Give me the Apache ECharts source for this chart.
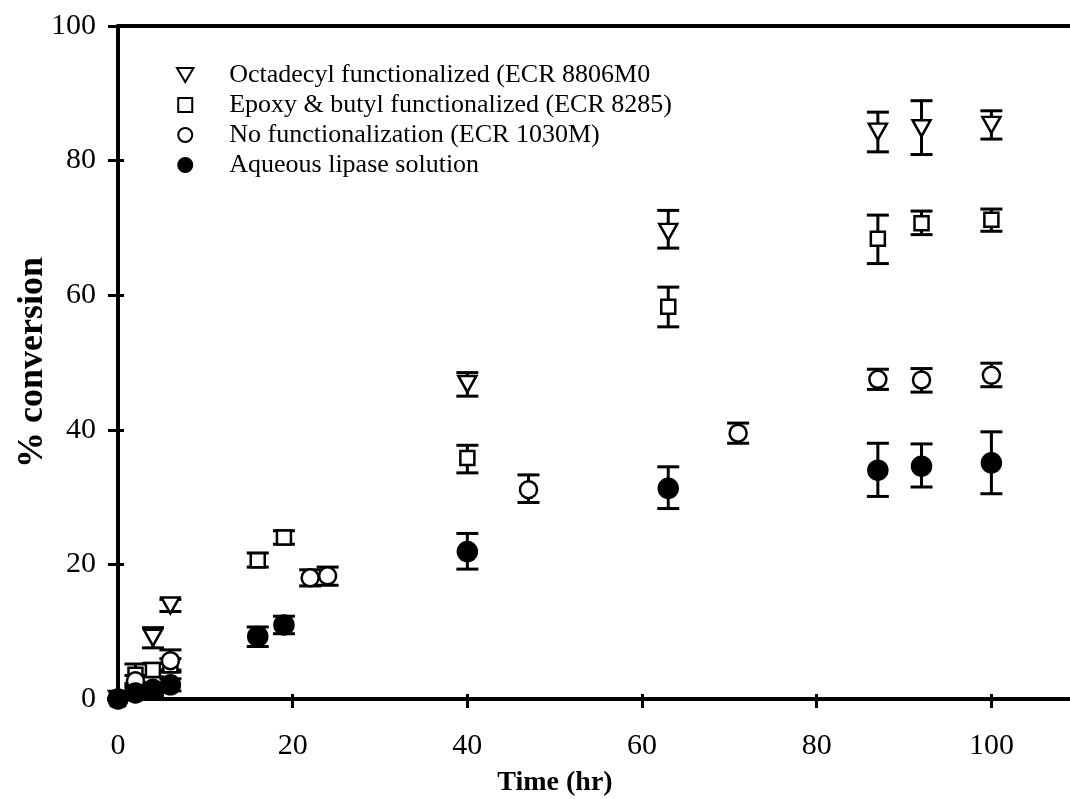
<!DOCTYPE html>
<html>
<head>
<meta charset="utf-8">
<script src="https://cdn.jsdelivr.net/npm/echarts@6/dist/echarts.min.js"></script>
<style>
  html, body { margin: 0; padding: 0; background: #fff; }
  #chart { width: 1070px; height: 799px; }
</style>
</head>
<body>
<div id="chart"></div>
<script>
// series names
const names = [
  'Octadecyl functionalized (ECR 8806M0',
  'Epoxy & butyl functionalized (ECR 8285)',
  'No functionalization (ECR 1030M)',
  'Aqueous lipase solution'
]

// octadecyl (open down-triangle)
const octT  = [0, 4, 6, 40, 63, 87, 92, 100]
const octY  = [0, 9.1, 13.9, 46.8, 69.4, 84.3, 84.8, 85.3]
const octLo = [0, 7.6, 13.0, 45.0, 67.0, 81.3, 80.9, 83.2]
const octHi = [0, 10.6, 14.8, 48.5, 72.6, 87.2, 88.9, 87.4]

// epoxy & butyl (open square)
const epoT  = [0, 2, 4, 6, 16, 19, 40, 63, 87, 92, 100]
const epoY  = [0, 3.6, 4.3, 5.0, 20.6, 24.0, 35.8, 58.3, 68.4, 70.7, 71.2]
const epoLo = [0, 2.3, 3.3, 4.0, 19.6, 23.0, 33.6, 55.3, 64.7, 69.0, 69.5]
const epoHi = [0, 5.2, 5.3, 6.0, 21.7, 25.0, 37.7, 61.2, 71.9, 72.5, 72.8]

// no functionalization (open circle)
const nofT  = [0, 2, 4, 6, 22, 24, 47, 71, 87, 92, 100]
const nofY  = [0, 2.7, 1.6, 5.7, 18.0, 18.3, 31.1, 39.5, 47.5, 47.4, 48.1]
const nofLo = [0, 1.9, 0.8, 4.3, 16.8, 16.9, 29.2, 38.0, 46.0, 45.6, 46.4]
const nofHi = [0, 3.5, 2.4, 7.3, 19.2, 19.6, 33.3, 41.0, 49.0, 49.1, 49.9]

// aqueous lipase (filled circle)
const aqT  = [0, 2, 4, 6, 16, 19, 40, 63, 87, 92, 100]
const aqY  = [0, 0.9, 1.3, 2.1, 9.3, 11.0, 21.9, 31.3, 34.0, 34.6, 35.1]
const aqLo = [0, 0.2, 0.5, 1.2, 7.8, 9.7, 19.3, 28.3, 30.1, 31.5, 30.5]
const aqHi = [0, 1.6, 2.1, 3.0, 10.7, 12.3, 24.6, 34.5, 38.0, 37.9, 39.7]

const xTicks = [0, 20, 40, 60, 80, 100]
const yTicks = [0, 20, 40, 60, 80, 100]

const FONT = 'Liberation Serif'
const triDown = 'path://M0,0 L20,0 L10,17 Z'
const square = 'path://M0,0 L10,0 L10,10 L0,10 Z'

const groups = [
  { t: octT, y: octY, lo: octLo, hi: octHi, symbol: triDown, size: [18, 16], fill: '#fff' },
  { t: epoT, y: epoY, lo: epoLo, hi: epoHi, symbol: square, size: 14, fill: '#fff' },
  { t: nofT, y: nofY, lo: nofLo, hi: nofHi, symbol: 'circle', size: 17, fill: '#fff' },
  { t: aqT, y: aqY, lo: aqLo, hi: aqHi, symbol: 'circle', size: 19, fill: '#000' }
]

function errorBar(params, api) {
  const x = api.value(0)
  const top = api.coord([x, api.value(2)])
  const bot = api.coord([x, api.value(1)])
  const hw = 11
  const style = { stroke: '#000', lineWidth: 3 }
  return {
    type: 'group',
    children: [
      { type: 'line', shape: { x1: top[0], y1: top[1], x2: bot[0], y2: bot[1] }, style },
      { type: 'line', shape: { x1: top[0] - hw, y1: top[1], x2: top[0] + hw, y2: top[1] }, style },
      { type: 'line', shape: { x1: bot[0] - hw, y1: bot[1], x2: bot[0] + hw, y2: bot[1] }, style }
    ]
  }
}

const series = []
groups.forEach((g, i) => {
  series.push({
    type: 'custom',
    name: names[i] + ' err',
    renderItem: errorBar,
    encode: { x: 0, y: [1, 2] },
    data: g.t.map((t, k) => [t, g.lo[k], g.hi[k]]),
    z: 2,
    silent: true
  })
})
groups.forEach((g, i) => {
  series.push({
    type: 'scatter',
    name: names[i],
    symbol: g.symbol,
    symbolSize: g.size,
    itemStyle: { color: g.fill, borderColor: '#000', borderWidth: 2.5, opacity: 1 },
    data: g.t.map((t, k) => [t, g.y[k]]),
    z: 3
  })
})

const chart = echarts.init(document.getElementById('chart'), null, { renderer: 'canvas' })
chart.setOption({
  animation: false,
  backgroundColor: '#fff',
  textStyle: { fontFamily: FONT, color: '#000' },
  title: {
    text: 'Time (hr)',
    left: 550, top: 764, textAlign: 'center',
    textStyle: { fontFamily: FONT, fontSize: 28, fontWeight: 'bold', color: '#000' }
  },
  grid: { left: 118, top: 26, right: 0, bottom: 100, containLabel: false, outerBoundsMode: 'none' },
  legend: {
    orient: 'vertical', left: 176, top: 62, padding: 0,
    itemWidth: 78, itemHeight: 14, itemGap: 4,
    textStyle: { fontFamily: FONT, fontSize: 26, color: '#000' },
    data: names.map((n, i) => ({
      name: n,
      icon: groups[i].symbol,
      itemStyle: { color: groups[i].fill, borderColor: '#000', borderWidth: 2 }
    }))
  },
  xAxis: [
    {
      type: 'value', min: 0, max: 109, position: 'bottom',
      axisLine: { lineStyle: { color: '#000', width: 4 } },
      axisTick: { show: true, inside: false, length: 9, customValues: xTicks, lineStyle: { color: '#000', width: 3 } },
      axisLabel: { fontFamily: FONT, fontSize: 30, color: '#000', margin: 32, customValues: xTicks },
      splitLine: { show: false }
    },
    {
      type: 'value', min: 0, max: 109, position: 'bottom',
      axisLine: { show: false },
      axisTick: { show: true, inside: true, length: 5, customValues: xTicks, lineStyle: { color: '#000', width: 3 } },
      axisLabel: { show: false },
      splitLine: { show: false }
    },
    {
      type: 'value', min: 0, max: 109, position: 'top',
      axisLine: { lineStyle: { color: '#000', width: 4 } },
      axisTick: { show: false }, axisLabel: { show: false }, splitLine: { show: false }
    }
  ],
  yAxis: [
    {
      type: 'value', min: 0, max: 100, position: 'left',
      name: '% conversion', nameLocation: 'middle', nameGap: 67, nameMoveOverlap: false,
      nameTextStyle: { fontFamily: FONT, fontSize: 36, fontWeight: 'bold', color: '#000' },
      axisLine: { lineStyle: { color: '#000', width: 4 } },
      axisTick: { show: true, inside: false, length: 10, customValues: yTicks, lineStyle: { color: '#000', width: 3 } },
      axisLabel: { fontFamily: FONT, fontSize: 30, color: '#000', margin: 22, customValues: yTicks },
      splitLine: { show: false }
    },
    {
      type: 'value', min: 0, max: 100, position: 'left',
      axisLine: { show: false },
      axisTick: { show: true, inside: true, length: 6, customValues: yTicks, lineStyle: { color: '#000', width: 3 } },
      axisLabel: { show: false },
      splitLine: { show: false }
    }
  ],
  series
})
</script>
</body>
</html>
